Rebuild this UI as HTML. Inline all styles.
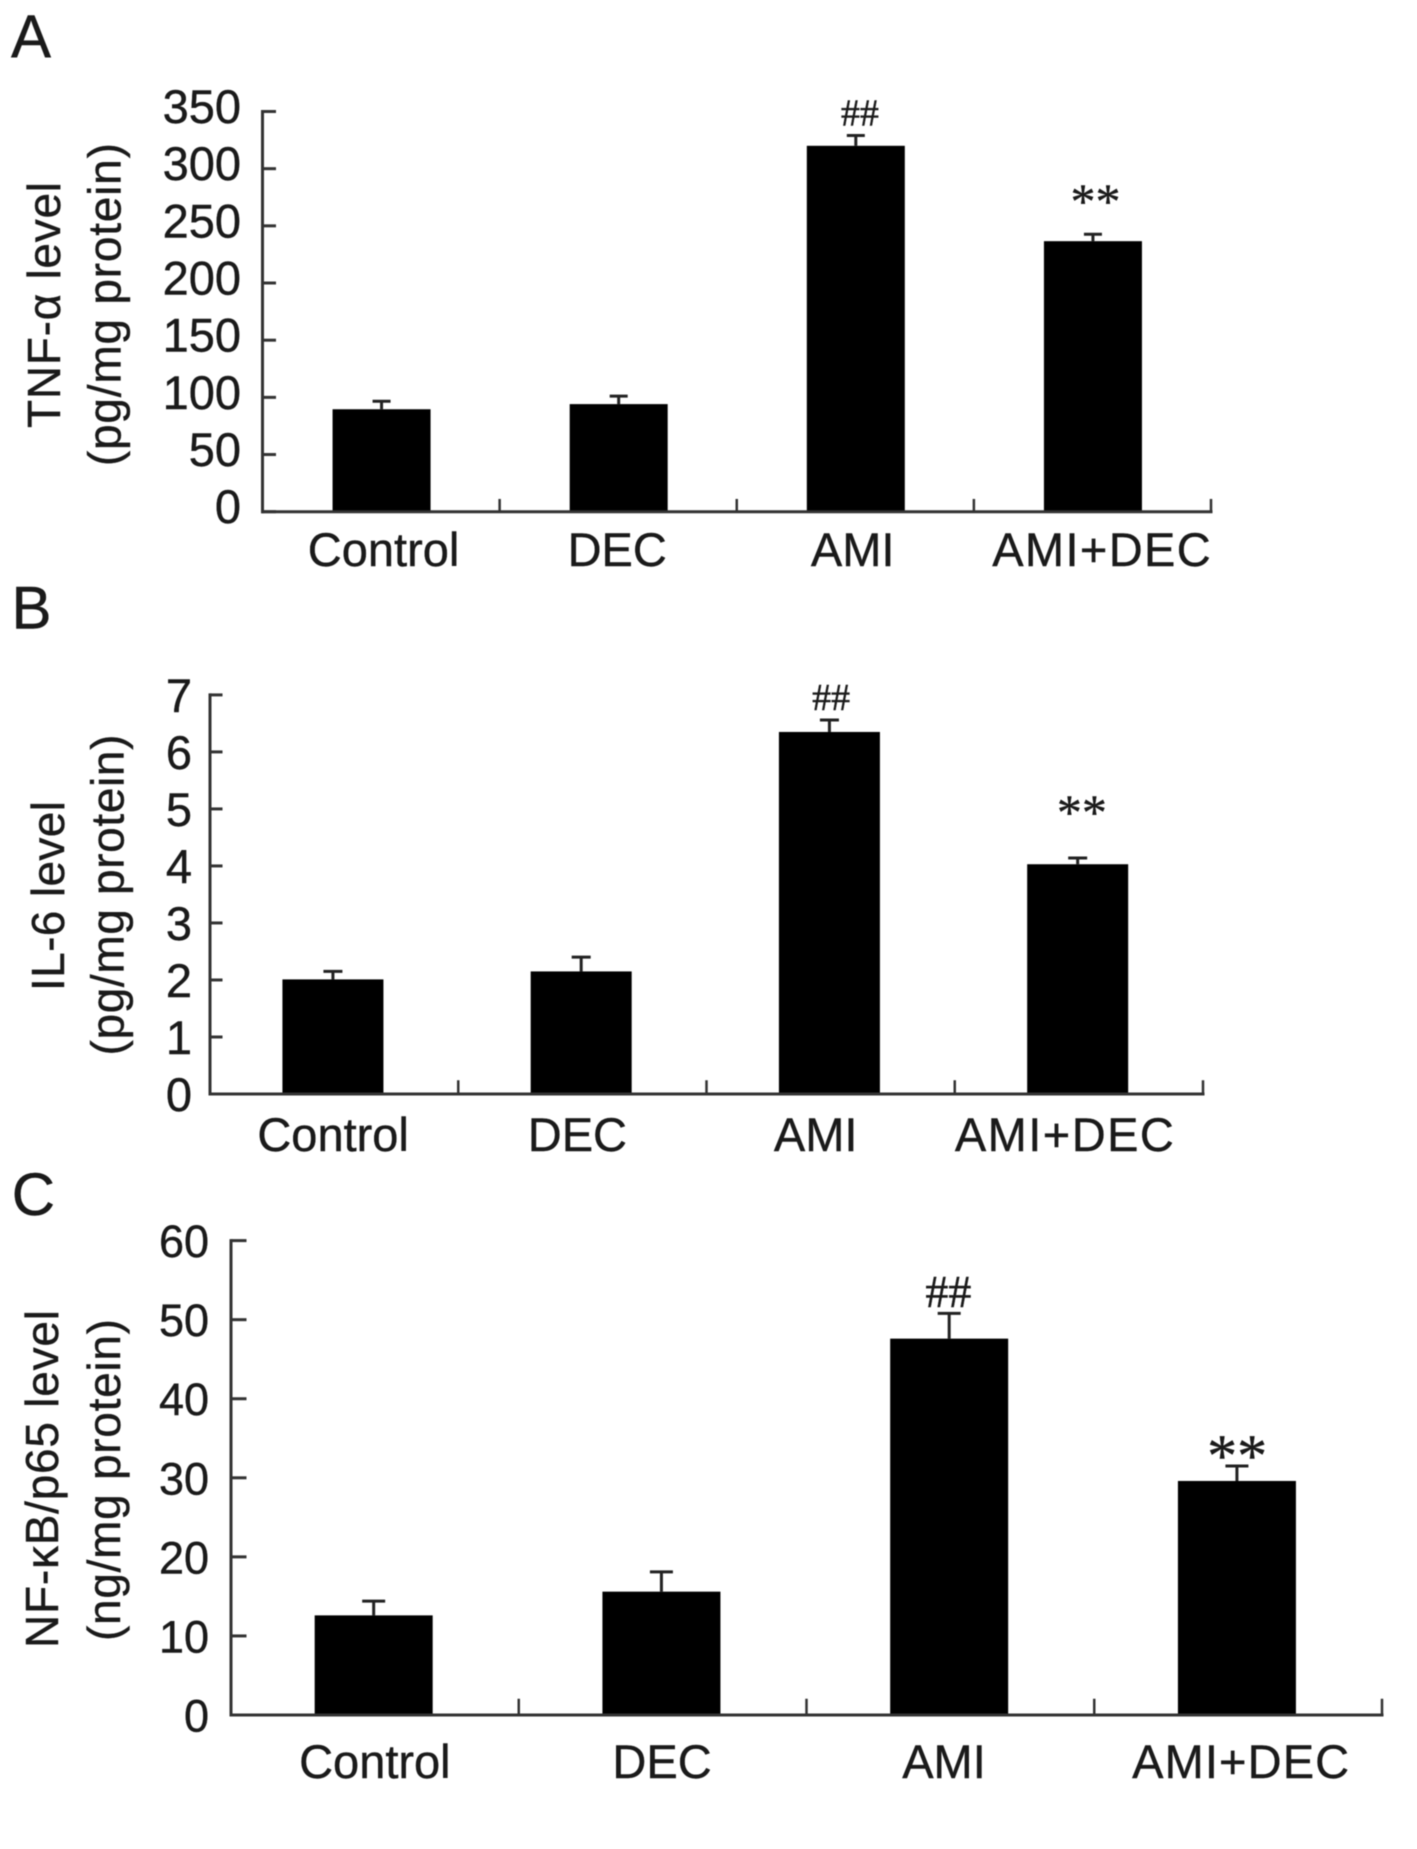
<!DOCTYPE html>
<html lang="en">
<head>
<meta charset="utf-8">
<title>TNF-α, IL-6 and NF-κB/p65 levels</title>
<style>
  html, body { margin: 0; padding: 0; background: #fff; }
  body { width: 1417px; height: 1849px; overflow: hidden; }
  svg { display: block; filter: blur(0.5px); }
  text { font-family: "Liberation Sans", sans-serif; fill: #1a1a1a; stroke: #1a1a1a; stroke-width: 0.4px; }
</style>
</head>
<body>
<svg id="figure" xmlns="http://www.w3.org/2000/svg" width="1417" height="1849" viewBox="0 0 1417 1849">
  <rect x="0" y="0" width="1417" height="1849" fill="#ffffff"/>

  <text x="11" y="57" font-size="60">A</text>
  <text x="11.5" y="628.5" font-size="60">B</text>
  <text x="11.7" y="1215" font-size="60">C</text>

  <g id="panel-a">
    <text transform="translate(60,305) rotate(-90)" text-anchor="middle" font-size="46" textLength="246">TNF-α level</text>
    <text transform="translate(120.3,304.6) rotate(-90)" text-anchor="middle" font-size="46" textLength="323">(pg/mg protein)</text>
  </g>
  <g id="panel-b">
    <text transform="translate(64,896) rotate(-90)" text-anchor="middle" font-size="46" textLength="190">IL-6 level</text>
    <text transform="translate(123.3,895) rotate(-90)" text-anchor="middle" font-size="46" textLength="321">(pg/mg protein)</text>
  </g>
  <g id="panel-c">
    <text transform="translate(58,1479) rotate(-90)" text-anchor="middle" font-size="46" textLength="338">NF-κB/p65 level</text>
    <text transform="translate(120,1480) rotate(-90)" text-anchor="middle" font-size="46" textLength="322">(ng/mg protein)</text>
  </g>
</svg>

<script>
// ---- chart data ----
var categories = ["Control", "DEC", "AMI", "AMI+DEC"];

var tnfTicks = [0, 50, 100, 150, 200, 250, 300, 350];
var tnfValues = [89.6, 94.1, 320, 236.6];
var tnfErrors = [7, 7, 9, 6];

var il6Ticks = [0, 1, 2, 3, 4, 5, 6, 7];
var il6Values = [2.01, 2.15, 6.35, 4.03];
var il6Errors = [0.14, 0.25, 0.21, 0.11];

var nfkbTicks = [0, 10, 20, 30, 40, 50, 60];
var nfkbValues = [12.6, 15.6, 47.6, 29.6];
var nfkbErrors = [1.8, 2.5, 3.2, 1.9];

var hashMark = "##";
var starMark = "**";

// ---- layout ----
var SVG_NS = "http://www.w3.org/2000/svg";

var panelA = {
  id: "panel-a", prefix: "tnf", ticks: tnfTicks, values: tnfValues, errors: tnfErrors,
  left: 262.5, right: 1211, top: 111.5, bottom: 511.7,
  barWidth: 98, barDx: 0.5, capWidth: 18, yTickLen: 13.5, xTickLen: 11.5,
  tickFont: 47, tickRight: 241, tickDy: 11.5,
  catBaseline: 566.2, catFont: 47, catDx: [2.5, -1, -2.6, 9], wideLabel: 218.5,
  hashFont: 38, hashDx: 4.5, hashDy: -10,
  starFont: 50, starDx: 3, starDy: -16.5
};
var panelB = {
  id: "panel-b", prefix: "il6", ticks: il6Ticks, values: il6Values, errors: il6Errors,
  left: 210, right: 1203, top: 694.9, bottom: 1094,
  barWidth: 101, barDx: -1.2, capWidth: 19, yTickLen: 12.5, xTickLen: 12.5,
  tickFont: 47, tickRight: 192, tickDy: 17,
  catBaseline: 1151, catFont: 47, catDx: [-1, -5, -15, -14.5], wideLabel: 219,
  hashFont: 38, hashDx: 0.5, hashDy: -10,
  starFont: 50, starDx: 3, starDy: -29
};
var panelC = {
  id: "panel-c", prefix: "nfkb", ticks: nfkbTicks, values: nfkbValues, errors: nfkbErrors,
  left: 231, right: 1382, top: 1240.6, bottom: 1715,
  barWidth: 118, barDx: -1.2, capWidth: 23, yTickLen: 15.5, xTickLen: 15,
  tickFont: 45, tickRight: 209, tickDy: 16.5,
  catBaseline: 1778, catFont: 47, catDx: [0, -0.6, -6.4, 2.5], wideLabel: 217,
  hashFont: 46, hashDx: -2, hashDy: -6.5,
  starFont: 60, starDx: -1, starDy: 10
};

function makeEl(tag, attrs, parent) {
  var el = document.createElementNS(SVG_NS, tag);
  for (var key in attrs) { el.setAttribute(key, attrs[key]); }
  parent.appendChild(el);
  return el;
}

function drawPanel(p) {
  var root = document.getElementById(p.id);
  var maxTick = p.ticks[p.ticks.length - 1];
  var band = (p.right - p.left) / categories.length;
  var y = function (v) { return p.bottom - (v / maxTick) * (p.bottom - p.top); };
  var xCenter = function (i) { return p.left + band * (i + 0.5); };
  var axisStyle = { stroke: "#333333", "stroke-width": 3, "stroke-linecap": "square" };
  var el, i;

  // bars and error bars
  for (i = 0; i < categories.length; i++) {
    var cx = xCenter(i) + p.barDx;
    var barTop = y(p.values[i]);
    var errTop = y(p.values[i] + p.errors[i]);

    el = makeEl("line", { x1: cx, x2: cx, y1: barTop, y2: errTop, stroke: "#222222", "stroke-width": 3 }, root);
    
    

    el = makeEl("line", { x1: cx - p.capWidth / 2, x2: cx + p.capWidth / 2, y1: errTop, y2: errTop, stroke: "#222222", "stroke-width": 3 }, root);
    
    

    el = makeEl("rect", { x: cx - p.barWidth / 2, y: barTop, width: p.barWidth, height: p.bottom - barTop, fill: "#000000" }, root);
    
    

    // x category label
    el = makeEl("text", { x: xCenter(i) + p.catDx[i], y: p.catBaseline, "text-anchor": "middle", "font-size": p.catFont }, root);
    if (categories[i].indexOf("+") !== -1) { el.setAttribute("textLength", p.wideLabel); }
    el.textContent = categories[i];
    
    

    // x tick at right edge of band
    var tx = p.left + band * (i + 1);
    el = makeEl("line", { x1: tx, x2: tx, y1: p.bottom, y2: p.bottom - p.xTickLen }, root);
    for (var a in axisStyle) { el.setAttribute(a, axisStyle[a]); }
    el.setAttribute("stroke-width", 2.5);
    
    
  }

  // y axis line
  el = makeEl("line", { x1: p.left, x2: p.left, y1: p.top, y2: p.bottom }, root);
  for (var b in axisStyle) { el.setAttribute(b, axisStyle[b]); }
  
  

  // x axis line
  el = makeEl("line", { x1: p.left, x2: p.right, y1: p.bottom, y2: p.bottom }, root);
  for (var c in axisStyle) { el.setAttribute(c, axisStyle[c]); }
  
  

  // y ticks and labels
  p.ticks.forEach(function (t) {
    var ty = y(t);
    var tick = makeEl("line", { x1: p.left, x2: p.left + p.yTickLen, y1: ty, y2: ty, stroke: "#333333", "stroke-width": 3 }, root);
    
    

    var lab = makeEl("text", { x: p.tickRight, y: ty + p.tickDy, "text-anchor": "end", "font-size": p.tickFont }, root);
    lab.textContent = String(t);
    
    
  });

  // significance marks, attached to the top of the AMI and AMI+DEC error bars
  var hash = makeEl("text", {
    x: xCenter(2) + p.hashDx,
    y: y(p.values[2] + p.errors[2]) + p.hashDy,
    "text-anchor": "middle", "font-size": p.hashFont, style: "font-family:'Liberation Serif',serif"
  }, root);
  hash.textContent = hashMark;
  
  

  var star = makeEl("text", {
    x: xCenter(3) + p.starDx,
    y: y(p.values[3] + p.errors[3]) + p.starDy,
    "text-anchor": "middle", "font-size": p.starFont, style: "font-family:'Liberation Serif',serif"
  }, root);
  star.textContent = starMark;
  
  
}

drawPanel(panelA);
drawPanel(panelB);
drawPanel(panelC);
</script>
</body>
</html>
